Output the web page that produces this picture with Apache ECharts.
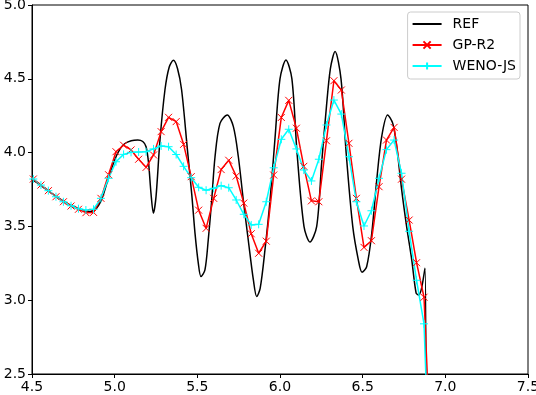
<!DOCTYPE html>
<html>
<head>
<meta charset="utf-8">
<script src="https://cdn.jsdelivr.net/npm/echarts@6/dist/echarts.min.js"></script>
<style>
  html, body { margin: 0; padding: 0; background: #fff; }
  #container1 { width: 536px; height: 395px; }
</style>
</head>
<body>
<div id="container1"></div>
<script>
// reference solution, sampled along the curve
var refX = [4.46, 4.50, 4.55, 4.60, 4.65, 4.70, 4.75, 4.80, 4.84, 4.88, 4.92, 4.96, 5.00, 5.03, 5.06, 5.10, 5.14, 5.17, 5.19, 5.205,
  5.22, 5.234, 5.25, 5.274, 5.304, 5.33, 5.355, 5.38, 5.405, 5.44, 5.466, 5.486, 5.506, 5.522, 5.546, 5.566, 5.587, 5.607, 5.637, 5.681,
  5.718, 5.748, 5.778, 5.808, 5.839, 5.859, 5.88, 5.909, 5.94, 5.97, 6.00, 6.036, 6.072, 6.103, 6.145, 6.181, 6.222, 6.252, 6.28, 6.305,
  6.333, 6.369, 6.40, 6.44, 6.474, 6.496, 6.524, 6.555, 6.585, 6.615, 6.651, 6.682, 6.706, 6.736, 6.766, 6.797, 6.823, 6.838, 6.855, 6.877, 6.882];
var refY = [3.855, 3.82, 3.78, 3.74, 3.70, 3.665, 3.635, 3.612, 3.60, 3.612, 3.68, 3.82, 3.95, 4.02, 4.06, 4.08, 4.085, 4.075, 4.04, 3.93,
  3.72, 3.59, 3.70, 4.085, 4.424, 4.58, 4.625, 4.57, 4.424, 4.02, 3.72, 3.453, 3.25, 3.16, 3.205, 3.408, 3.679, 3.972, 4.198, 4.255,
  4.176, 3.972, 3.679, 3.408, 3.137, 3.025, 3.08, 3.34, 3.68, 4.10, 4.50, 4.627, 4.50, 4.00, 3.50, 3.394, 3.50, 3.93, 4.30, 4.57,
  4.685, 4.50, 4.00, 3.50, 3.272, 3.19, 3.227, 3.453, 3.814, 4.108, 4.255, 4.198, 4.04, 3.747, 3.498, 3.272, 3.05, 3.035, 3.075, 3.216, 2.4];

// cell centres used by both schemes
var cellX = [4.463, 4.508, 4.554, 4.599, 4.645, 4.690, 4.736, 4.781, 4.826, 4.872, 4.917, 4.963, 5.008, 5.054, 5.099, 5.145, 5.190, 5.235, 5.281,
  5.326, 5.372, 5.417, 5.463, 5.508, 5.553, 5.599, 5.644, 5.690, 5.735, 5.781, 5.826, 5.871, 5.917, 5.962, 6.008, 6.053, 6.099, 6.144,
  6.190, 6.235, 6.281, 6.326, 6.371, 6.417, 6.462, 6.508, 6.553, 6.599, 6.644, 6.690, 6.735, 6.781, 6.826, 6.871, 6.917];
var gpY = [3.855, 3.821, 3.780, 3.742, 3.701, 3.667, 3.638, 3.616, 3.593, 3.595, 3.69, 3.85, 4.006, 4.05, 4.018, 3.955, 3.90, 3.984, 4.142,
  4.239, 4.21, 4.056, 3.837, 3.61, 3.487, 3.69, 3.885, 3.948, 3.841, 3.658, 3.45, 3.318, 3.40, 3.848, 4.238, 4.354, 4.165, 3.907,
  3.673, 3.667, 4.08, 4.487, 4.424, 4.063, 3.69, 3.358, 3.403, 3.769, 4.085, 4.171, 3.82, 3.543, 3.254, 3.02, 1.8];
var wenoY = [3.855, 3.821, 3.780, 3.742, 3.701, 3.667, 3.64, 3.62, 3.611, 3.616, 3.69, 3.826, 3.938, 3.988, 4.002, 4.004, 4.006, 4.025, 4.045,
  4.04, 3.987, 3.907, 3.83, 3.765, 3.745, 3.758, 3.776, 3.762, 3.679, 3.582, 3.51, 3.514, 3.667, 3.897, 4.09, 4.158, 4.025, 3.882,
  3.808, 3.955, 4.187, 4.356, 4.261, 3.972, 3.667, 3.503, 3.606, 3.826, 4.02, 4.085, 3.86, 3.467, 3.135, 2.84, 1.4];

var seriesNames = ['REF', 'GP-R2', 'WENO-JS'];
var xTicks = [4.5, 5.0, 5.5, 6.0, 6.5, 7.0, 7.5];
var yTicks = [2.5, 3.0, 3.5, 4.0, 4.5, 5.0];

var FONT = 'DejaVu Sans';
var CROSS = 'path://M0,0L10,10M10,0L0,10';
var PLUS = 'path://M5,0L5,10M0,5L10,5';

function pairs(xs, ys) {
  return xs.map(function (x, i) { return [x, ys[i]]; });
}

function axisCommon(ticks) {
  return {
    type: 'value',
    min: ticks[0],
    max: ticks[ticks.length - 1],
    interval: ticks[1] - ticks[0],
    axisLine: { show: true, onZero: false, lineStyle: { color: '#000', width: 1 } },
    axisTick: { show: true, inside: false, length: 4, lineStyle: { color: '#000', width: 1 } },
    axisLabel: {
      color: '#000', fontSize: 14, fontFamily: FONT, margin: 6,
      showMinLabel: true, showMaxLabel: true, hideOverlap: false,
      formatter: function (v) { return v.toFixed(1); }
    },
    splitLine: { show: false }
  };
}

function renderChart(dom) {
  var myChart = echarts.init(dom);
  var option = {
    animation: false,
    backgroundColor: '#fff',
    grid: {
      left: 32, right: 8, top: 5, bottom: 21,
      containLabel: false,
      outerBoundsMode: 'none',
      show: true, borderColor: '#000', borderWidth: 1
    },
    xAxis: axisCommon(xTicks),
    yAxis: axisCommon(yTicks),
    legend: {
      orient: 'vertical',
      right: 16,
      top: 12,
      itemWidth: 29,
      itemHeight: 9,
      itemGap: 7,
      padding: [5, 4, 6, 4],
      backgroundColor: 'rgba(255,255,255,0.8)',
      borderColor: '#cccccc',
      borderWidth: 1,
      borderRadius: 3,
      textStyle: { color: '#000', fontSize: 14, fontFamily: FONT, padding: [0, 0, 0, 6] },
      data: [
        { name: seriesNames[0], itemStyle: { opacity: 0 } },
        seriesNames[1],
        seriesNames[2]
      ]
    },
    series: [{
      name: seriesNames[0],
      type: 'line',
      data: pairs(refX, refY),
      symbol: 'none',
      smooth: 0.3,
      clip: true,
      lineStyle: { color: '#000', width: 1.5 },
      itemStyle: { color: '#000' }
    }, {
      name: seriesNames[1],
      type: 'line',
      data: pairs(cellX, gpY),
      symbol: CROSS,
      symbolSize: 7,
      showAllSymbol: true,
      clip: true,
      lineStyle: { color: '#ff0000', width: 1.5 },
      itemStyle: { color: '#ff0000', borderColor: '#ff0000', borderWidth: 1 }
    }, {
      name: seriesNames[2],
      type: 'line',
      data: pairs(cellX, wenoY),
      symbol: PLUS,
      symbolSize: 8,
      showAllSymbol: true,
      clip: true,
      lineStyle: { color: '#00ffff', width: 1.5 },
      itemStyle: { color: '#00ffff', borderColor: '#00ffff', borderWidth: 1 }
    }]
  };
  myChart.setOption(option, true);
}

renderChart(document.getElementById('container1'));
</script>
</body>
</html>
